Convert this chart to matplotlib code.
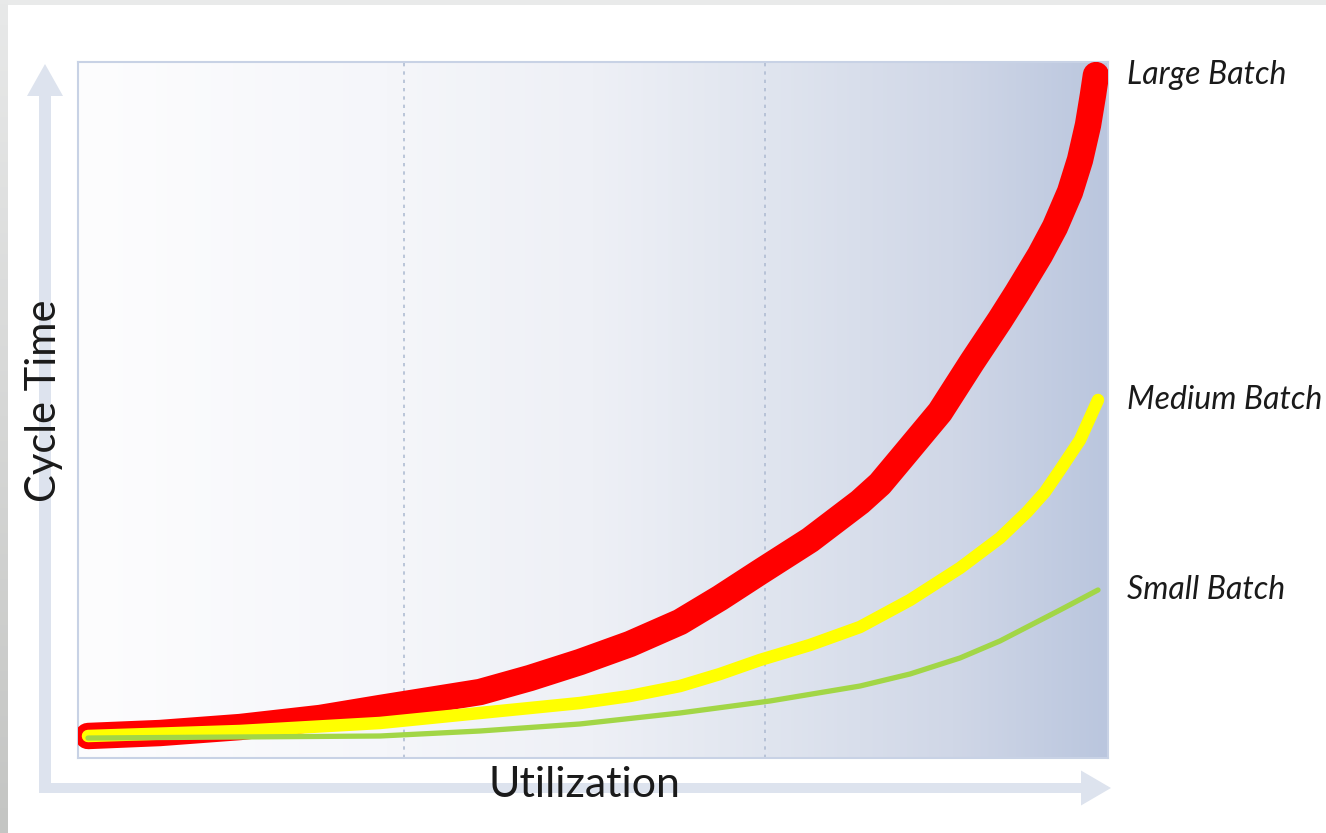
import numpy as np
import matplotlib
matplotlib.use("Agg")
import matplotlib.pyplot as plt
from matplotlib.patches import Rectangle, FancyArrow

# ---- data (utilization %, cycle time %) ----
large_x = [0.97, 7.96, 15.73, 23.50, 29.32, 34.17, 39.03, 43.88, 48.74, 53.59, 58.45, 62.33,
           66.21, 71.07, 75.92, 77.86, 79.81, 83.69, 86.80, 89.51, 91.17, 93.40, 94.85, 96.31,
           97.28, 98.06, 98.54, 98.83]
large_y = [3.16, 3.59, 4.45, 5.75, 7.18, 8.33, 9.48, 11.49, 13.79, 16.38, 19.54, 22.99,
           26.72, 31.32, 36.78, 39.37, 42.82, 49.71, 56.90, 62.93, 66.81, 72.27, 76.29, 81.32,
           85.92, 90.95, 95.26, 98.13]

medium_x = [0.97, 15.73, 29.32, 39.03, 48.74, 53.59, 58.45, 62.33, 66.21, 71.07,
            75.92, 80.78, 85.63, 89.51, 92.14, 93.88, 95.34, 97.28, 99.03]
medium_y = [3.16, 3.88, 5.03, 6.47, 7.90, 8.91, 10.34, 12.07, 14.08, 16.24,
            18.82, 22.70, 27.30, 31.61, 35.34, 38.22, 41.38, 45.69, 51.44]

small_x = [0.97, 15.73, 29.32, 39.03, 48.74, 58.45, 67.18, 75.92, 80.78, 85.63,
           89.51, 92.14, 95.34, 99.03]
small_y = [2.87, 3.02, 3.16, 3.88, 4.89, 6.47, 8.19, 10.34, 12.07, 14.37,
           16.81, 18.82, 21.26, 24.14]

series_labels = ["Large Batch", "Medium Batch", "Small Batch"]
divider_x = [31.65, 66.7]

W, H = 1326, 833
fig = plt.figure(figsize=(W / 100, H / 100), dpi=100)
fig.patch.set_facecolor("white")

# ---- outer frame (gray bands top & left) ----
frame = fig.add_axes([0, 0, 1, 1])
frame.set_xlim(0, W)
frame.set_ylim(H, 0)
frame.axis("off")
frame.add_patch(Rectangle((0, 0), W, 5, color="#e9eaea", lw=0))
left_grad = np.linspace(0, 1, 200).reshape(-1, 1)
top_c = np.array([232, 233, 233]) / 255
bot_c = np.array([196, 197, 195]) / 255
left_img = top_c[None, None, :] * (1 - left_grad[..., None]) + bot_c[None, None, :] * left_grad[..., None]
frame.imshow(left_img, extent=[0, 8, H, 0], aspect="auto", zorder=1)

arrow_c = "#dde3ee"
frame.add_patch(FancyArrow(45, 793, 0, -(793 - 64), width=12, head_width=36,
                           head_length=32, length_includes_head=True,
                           color=arrow_c, lw=0, zorder=2))
frame.add_patch(FancyArrow(39, 788, 1111 - 39, 0, width=10, head_width=35,
                           head_length=30, length_includes_head=True,
                           color=arrow_c, lw=0, zorder=2))
frame.text(44, 401, "Cycle Time", rotation=90, ha="center", va="center",
           fontsize=30, family="Lato", color="#1a1a1a", zorder=3)
frame.text(585, 785, "Utilization", ha="center", va="center",
           fontsize=31, family="Lato", color="#1a1a1a", zorder=3)

# ---- main plot ----
ax = fig.add_axes([78 / W, (H - 758) / H, 1030 / W, 696 / H])
ax.set_xlim(0, 100)
ax.set_ylim(0, 100)

stops = [0.0, 0.3, 0.5, 0.67, 0.85, 1.0]
cols = np.array([[253, 253, 254], [245, 246, 250], [238, 240, 246],
                 [224, 229, 239], [208, 215, 231], [186, 198, 222]]) / 255
t = np.linspace(0, 1, 512)
grad = np.stack([np.interp(t, stops, cols[:, k]) for k in range(3)], axis=-1)[None, :, :]
ax.imshow(grad, extent=[0, 100, 0, 100], aspect="auto", zorder=0)

for xv in divider_x:
    ax.axvline(xv, color="#b0bdd3", lw=1.2, ls=(0, (2, 3)), zorder=1)

ax.plot(large_x, large_y, color="#ff0000", lw=19, solid_capstyle="round",
        solid_joinstyle="round", zorder=3)
ax.plot(medium_x, medium_y, color="#ffff00", lw=9, solid_capstyle="round",
        solid_joinstyle="round", zorder=4)
ax.plot(small_x, small_y, color="#a2d646", lw=3.8, solid_capstyle="round",
        solid_joinstyle="round", zorder=5)

for s in ax.spines.values():
    s.set_color("#c8d2e5")
    s.set_linewidth(1.5)
ax.set_xticks([])
ax.set_yticks([])

# ---- end labels ----
label_y = [large_y[-1], medium_y[-1], small_y[-1]]
for lab, yv in zip(series_labels, label_y):
    ax.annotate(lab, xy=(100, yv), xycoords="data", xytext=(19, 0),
                textcoords="offset pixels", ha="left", va="center",
                fontsize=23, style="italic", family="Lato", color="#1a1a1a",
                annotation_clip=False)

fig.savefig("out.png", dpi=100)
